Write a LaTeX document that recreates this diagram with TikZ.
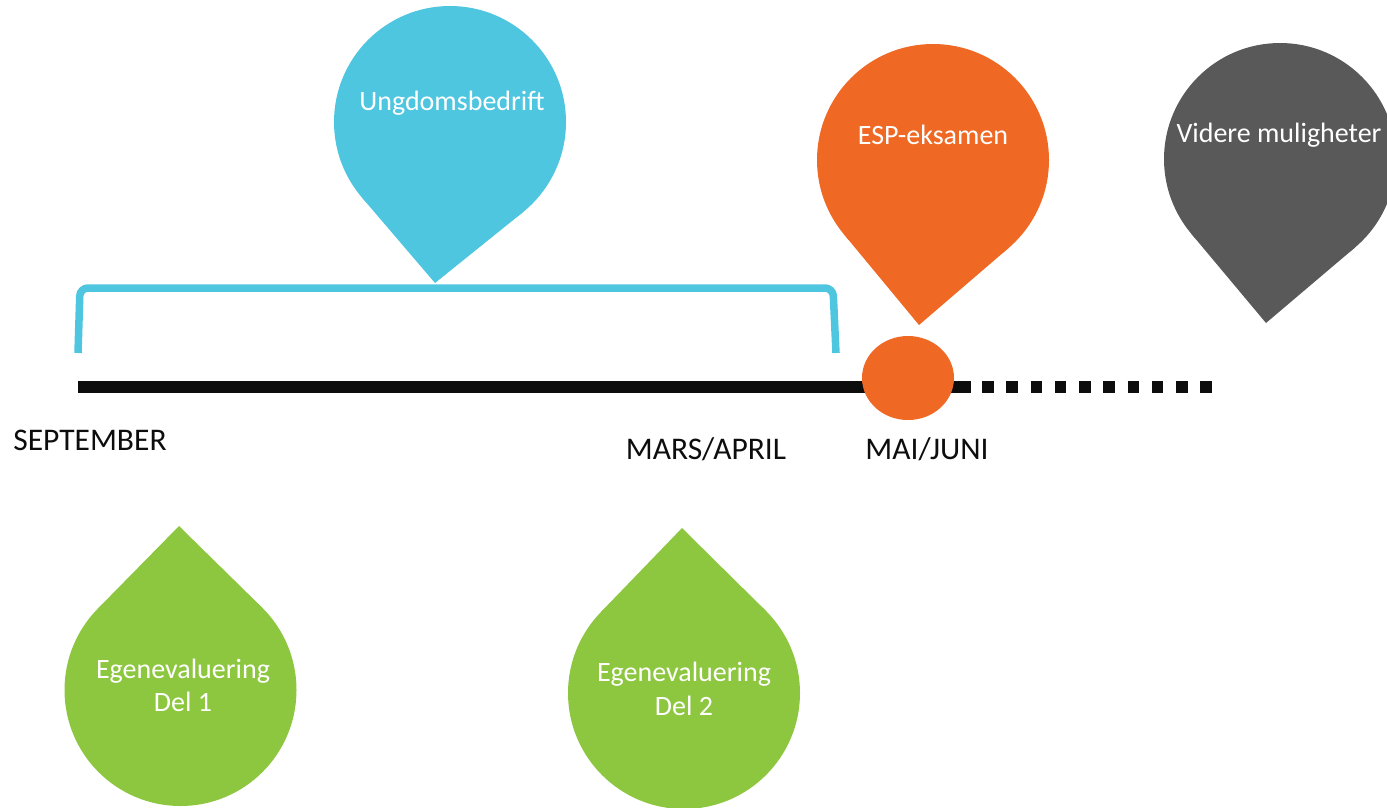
\documentclass[tikz,border=0pt]{standalone}
\usepackage{fontspec}
\setmainfont{Carlito}
\usetikzlibrary{calc,shapes.geometric}
\definecolor{ubblue}{RGB}{78,198,224}
\definecolor{esporange}{RGB}{239,104,36}
\definecolor{vmgrey}{RGB}{89,89,89}
\definecolor{evgreen}{RGB}{141,198,63}
\definecolor{tlblack}{RGB}{13,13,13}
\begin{document}
\begin{tikzpicture}[x=1pt,y=-1pt,
  dropcircle/.style={circle,minimum size=232pt,inner sep=0pt,outer sep=0pt,draw=none,fill=#1},
  droptext/.style={text=white,font=\fontsize{28}{32}\selectfont,inner sep=0pt,anchor=base},
  monthlabel/.style={text=tlblack,font=\fontsize{31.5}{36}\selectfont,inner sep=0pt,anchor=base},
  bracketline/.style={ubblue,line width=7.5pt,rounded corners=8pt},
  timeline/.style={tlblack,line width=12pt},
]
\useasboundingbox (0,0) rectangle (1387,807);
\clip (0,0) rectangle (1387,807);

% bracket
\coordinate (brA) at (78,353);
\coordinate (brB) at (80,288);
\coordinate (brC) at (833,288);
\coordinate (brD) at (836,353);
\draw[bracketline] (brA) -- (brB) -- (brC) -- (brD);

% timeline
\coordinate (tlstart) at (78,387);
\coordinate (tlsolidend) at (971,387);
\coordinate (tldotstart) at (982,387);
\coordinate (tlend) at (1212,387);
\draw[timeline] (tlstart) -- (tlsolidend);
\draw[timeline,dash pattern=on 11.7pt off 12.55pt] (tldotstart) -- (tlend);

% orange marker
\node[ellipse,fill=esporange,minimum width=92pt,minimum height=84pt,inner sep=0pt,outer sep=0pt] (mark) at (908,378) {};

% Ungdomsbedrift drop
\node[dropcircle=ubblue] (ub) at (450,122) {};
\coordinate (ubtip) at (435,283);
\fill[ubblue] (ubtip) -- (tangent cs:node=ub,point={(ubtip)},solution=1) -- (tangent cs:node=ub,point={(ubtip)},solution=2) -- cycle;
\node[droptext] (ubtext) at (452,110) {Ungdomsbedrift};

% ESP-eksamen drop
\node[dropcircle=esporange] (esp) at (933,160) {};
\coordinate (esptip) at (919,325);
\fill[esporange] (esptip) -- (tangent cs:node=esp,point={(esptip)},solution=1) -- (tangent cs:node=esp,point={(esptip)},solution=2) -- cycle;
\node[droptext] (esptext) at (933,144) {ESP-eksamen};

% Videre muligheter drop
\node[dropcircle=vmgrey] (vm) at (1280,159) {};
\coordinate (vmtip) at (1266,323);
\fill[vmgrey] (vmtip) -- (tangent cs:node=vm,point={(vmtip)},solution=1) -- (tangent cs:node=vm,point={(vmtip)},solution=2) -- cycle;
\node[droptext] (vmtext) at (1279,142.7) {Videre muligheter};

% Egenevaluering Del 1
\node[dropcircle=evgreen] (ev1) at (180.5,690) {};
\coordinate (ev1tip) at (179,526);
\fill[evgreen] (ev1tip) -- (tangent cs:node=ev1,point={(ev1tip)},solution=1) -- (tangent cs:node=ev1,point={(ev1tip)},solution=2) -- cycle;
\node[droptext] (ev1texta) at (183,678.3) {Egenevaluering};
\node[droptext] (ev1textb) at (183,711.7) {Del 1};

% Egenevaluering Del 2
\node[dropcircle=evgreen] (ev2) at (684,693) {};
\coordinate (ev2tip) at (682,528);
\fill[evgreen] (ev2tip) -- (tangent cs:node=ev2,point={(ev2tip)},solution=1) -- (tangent cs:node=ev2,point={(ev2tip)},solution=2) -- cycle;
\node[droptext] (ev2texta) at (684,681.7) {Egenevaluering};
\node[droptext] (ev2textb) at (684,715) {Del 2};

% month labels
\node[monthlabel] (sep) at (90,450) {SEPTEMBER};
\node[monthlabel] (mars) at (706,459) {MARS/APRIL};
\node[monthlabel] (mai) at (927,459) {MAI/JUNI};
\end{tikzpicture}
\end{document}
